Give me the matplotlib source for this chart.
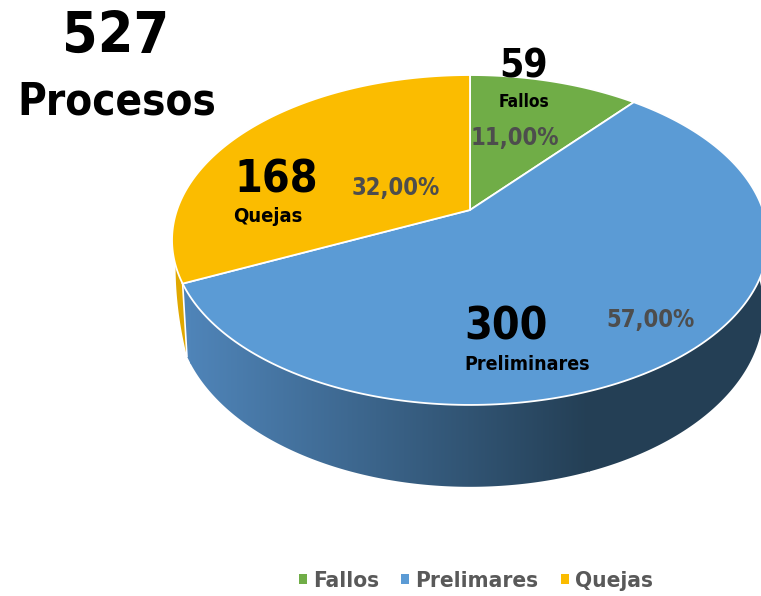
import numpy as np
import matplotlib
matplotlib.use('Agg')
import matplotlib.pyplot as plt
from matplotlib.colors import LinearSegmentedColormap
from matplotlib.patches import Patch, Polygon

# --- Datos ---
total = 527
categorias = ['Fallos', 'Prelimares', 'Quejas']
etiquetas = ['Fallos', 'Preliminares', 'Quejas']
valores = [59, 300, 168]
porcentajes = [11.0, 57.0, 32.0]
colores = ['#70AD47', '#5B9BD5', '#FBBC00']

# --- Geometria del pastel en perspectiva (en pixeles de la imagen) ---
cx, cy = 470, 210
radio_x, radio_y = 293, 159.5
k = 0.1818
prof = 67
escala_base = 0.985


def borde(ang):
    # ang en grados, desde arriba y en sentido horario
    t = np.radians(ang)
    u, v = np.sin(t), np.cos(t)
    w = 1 + k * v
    return cx + radio_x * u / w, cy - radio_y * v / w, prof / w


def base(ang):
    # borde inferior del lateral, un poco mas estrecho que la cara superior
    x, y, d = borde(ang)
    return cx + (x - cx) * escala_base, y + d


fig = plt.figure(figsize=(7.61, 5.96), dpi=100)
ax = fig.add_axes([0, 0, 1, 1])
ax.axis('off')

acum = np.cumsum([0] + porcentajes) * 3.6

# Lateral azul: degradado horizontal recortado con la forma del lateral
angs = np.linspace(85, acum[2], 300)
xs, ys, _ = borde(angs)
bx, by = base(angs)
lateral = Polygon(list(zip(xs, ys)) + list(zip(bx, by))[::-1], closed=True, fc='none', ec='none')
ax.add_patch(lateral)
cmap = LinearSegmentedColormap.from_list('lateral', ['#4F84B8', '#243F55'])
img = ax.imshow(np.linspace(0, 1, 256).reshape(1, -1), cmap=cmap, extent=(190, 590, 500, 200), aspect='auto',
                zorder=1)
img.set_clip_path(lateral)
# a la derecha del degradado el lateral sigue oscuro
img2 = ax.imshow(np.ones((1, 2)), cmap=cmap, vmin=0, vmax=1, extent=(589, 790, 500, 200), aspect='auto', zorder=1)
img2.set_clip_path(lateral)
img3 = ax.imshow(np.zeros((1, 2)), cmap=cmap, vmin=0, vmax=1, extent=(170, 191, 500, 200), aspect='auto', zorder=1)
img3.set_clip_path(lateral)
ax.set_xlim(0, 761)
ax.set_ylim(596, 0)

# Lateral de Quejas: solo asoma una astilla que se estrecha hacia arriba
angs = np.linspace(acum[2], acum[2] + 6.2, 20)
xs, ys, _ = borde(angs)
bx0, by0 = base(acum[2])
t = np.linspace(0, 1, 20)
xb = xs[-1] + (bx0 - xs[-1]) * t ** 2
yb = ys[-1] + (by0 - ys[-1]) * t
ax.add_patch(Polygon(list(zip(xs, ys)) + list(zip(xb, yb)), closed=True, fc='#E0A800', ec='none', zorder=2))

# Linea blanca entre los dos laterales
x0, y0, _ = borde(acum[2])
ax.plot([x0, bx0], [y0, by0], color='white', lw=1.2, zorder=2.5)

# Cara superior
for i in range(len(valores)):
    angs = np.linspace(acum[i], acum[i + 1], 200)
    xs, ys, _ = borde(angs)
    puntos = [(cx, cy)] + list(zip(xs, ys))
    ax.add_patch(Polygon(puntos, closed=True, fc=colores[i], ec='white', lw=1.3, zorder=3))

# --- Textos ---
negro = '#000000'
gris = '#4D4D4D'
estilo = {'family': 'DejaVu Sans', 'stretch': 'condensed', 'fontweight': 'bold', 'ha': 'center',
          'va': 'center', 'zorder': 5}
ax.text(116, 37, str(total), fontsize=41, color=negro, **estilo)
ax.text(117, 102, 'Procesos', fontsize=31.5, color=negro, **estilo)

pos_num = [(524, 66), (506, 327), (276, 180)]
pos_nom = [(524, 102), (527, 365), (268, 217)]
pos_pct = [(515, 138), (651, 320), (396, 188)]
tam_num = [28, 32, 32]
tam_nom = [12.5, 14, 14.5]
for i in range(len(valores)):
    ax.text(*pos_num[i], str(valores[i]), fontsize=tam_num[i], color=negro, **estilo)
    ax.text(*pos_nom[i], etiquetas[i], fontsize=tam_nom[i], color=negro, **estilo)
    ax.text(*pos_pct[i], f'{porcentajes[i]:.2f}%'.replace('.', ','), fontsize=17, color=gris, **estilo)

# --- Leyenda ---
handles = [Patch(fc=c, ec='none') for c in colores]
ley = ax.legend(handles, categorias, ncol=3, loc='center', bbox_to_anchor=(476 / 761, 1 - 581 / 596),
                frameon=False, handlelength=0.35, handleheight=0.35, handletextpad=0.28,
                columnspacing=0.98,
                prop={'family': 'DejaVu Sans', 'stretch': 'condensed', 'weight': 'bold', 'size': 16.2})
for t in ley.get_texts():
    t.set_color('#595959')

plt.savefig('out.png', dpi=100)
